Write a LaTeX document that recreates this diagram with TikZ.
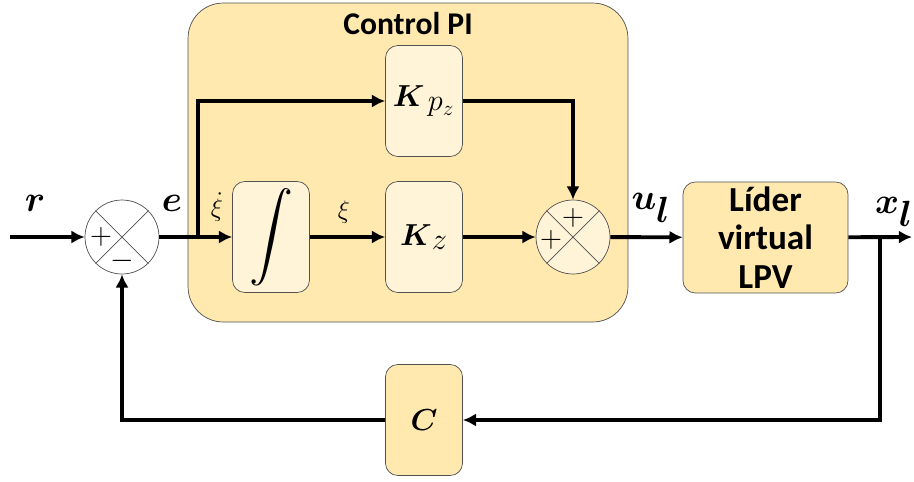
\documentclass[tikz,border=0pt]{standalone}
\usepackage{amsmath,amssymb}
\usepackage{fontspec}
\setmainfont{Carlito}
\usetikzlibrary{arrows.meta, positioning, calc}
\definecolor{piback}{HTML}{FFE9AF}
\definecolor{blkfill}{HTML}{FFF4D8}
\definecolor{edge}{HTML}{505050}
\tikzset{
  blk/.style={rectangle, rounded corners=7pt, draw=edge, thin,
              fill=#1, minimum width=1.54cm, minimum height=2.22cm,
              inner sep=0pt, align=center},
  blk/.default=blkfill,
  sumnode/.style={circle, draw=edge, thin, fill=#1,
                  minimum size=1.48cm, inner sep=0pt},
  sumnode/.default=white,
  pibox/.style={rectangle, rounded corners=20pt, draw=edge, thin,
                fill=piback, minimum width=8.8cm, minimum height=6.38cm},
  arr/.style={-{Latex[length=7.5pt,width=7.5pt]}, line width=2.2pt},
  sig/.style={font=\fontsize{20}{22}\selectfont},
  sgn/.style={font=\fontsize{16}{16}\selectfont, inner sep=0pt},
  ttl/.style={font=\fontsize{18}{22}\selectfont\bfseries, align=center},
}

\begin{document}
\begin{tikzpicture}[x=0.02cm, y=-0.02cm]
  \useasboundingbox (0,0) rectangle (914,481);
  %% Control PI group
  \node[pibox] (pi) at (408,162.5) {};
  \node[ttl] (pittl) at (408,24) {Control PI};
  \node[blk] (kp)  at (424,101) {\fontsize{18}{20}\selectfont$\boldsymbol{K}_{\,\textstyle p_z}$};
  \node[blk] (int) at (271,237) {\fontsize{25}{28}\selectfont$\displaystyle\int$};
  \node[blk] (kz)  at (424,237) {\fontsize{18}{20}\selectfont$\boldsymbol{K}_{\textstyle z}$};
  \node[sumnode=blkfill] (s2) at (573,237) {};
  %% Comparator, plant, feedback
  \node[sumnode] (s1) at (122,237) {};
  \node[blk=piback, minimum width=3.3cm, ttl, font=\fontsize{20}{22}\selectfont\bfseries] (plant) at (765.5,237.5) {Líder\\virtual\\LPV};
  \node[blk=piback] (c) at (424,420) {\fontsize{19}{20}\selectfont$\boldsymbol{C}$};
  \foreach \s in {s1,s2} {
    \draw[edge, thin] (\s.north west) -- (\s.south east);
    \draw[edge, thin] (\s.north east) -- (\s.south west);
  }
  \node[sgn] at ($(s1)+(-21,0)$) {$+$};
  \node[sgn] at ($(s1)+(0,24)$) {$-$};
  \node[sgn] at ($(s2)+(-22,3)$) {$+$};
  \node[sgn] at ($(s2)+(0,-19)$) {$+$};
  %% Wires
  \coordinate (rin)  at (10,237);
  \coordinate (ebr)  at (198,237);
  \coordinate (xout) at (912,237);
  \coordinate (fbr)  at (880,237);
  \draw[arr] (rin) -- (s1);
  \draw[arr] (s1) -- (int);
  \draw[arr] (ebr) |- (kp);
  \draw[arr] (int) -- (kz);
  \draw[arr] (kz) -- (s2);
  \draw[arr] (kp) -| (s2);
  \draw[arr] (s2) -- (plant);
  \draw[arr] (plant) -- (xout);
  \draw[arr] (fbr) |- (c);
  \draw[arr] (c) -| (s1);
  %% Signal labels
  \node[sig] (rlbl)  at (35,203)  {$\boldsymbol{r}$};
  \node[sig] (elbl)  at (172,203) {$\boldsymbol{e}$};
  \node[sig] (ullbl) at (651,208) {$\boldsymbol{u}_{\textstyle\boldsymbol{l}}$};
  \node[sig] (xllbl) at (894,212) {$\boldsymbol{x}_{\textstyle\boldsymbol{l}}$};
  \node[font=\fontsize{15}{16}\selectfont, inner sep=1pt] (xidot) at (217,207) {$\dot{\xi}$};
  \node[font=\fontsize{15}{16}\selectfont] (xilbl) at (344,212) {$\xi$};
\end{tikzpicture}
\end{document}
